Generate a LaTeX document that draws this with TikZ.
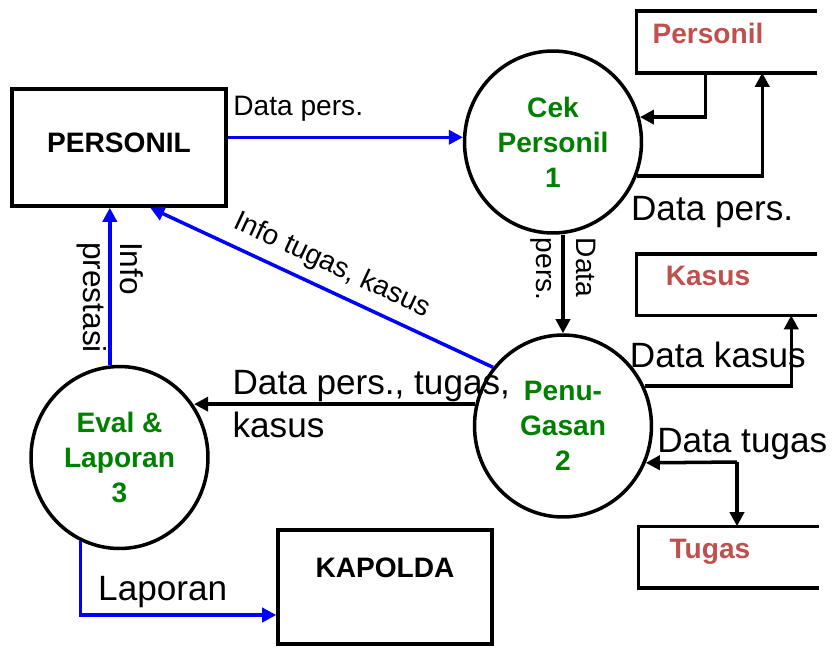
\documentclass[tikz,border=0pt]{standalone}
\usepackage{fontspec}
\setmainfont{Liberation Sans}
\usetikzlibrary{shapes.geometric,arrows.meta,calc}
\definecolor{procgreen}{RGB}{0,128,0}
\definecolor{storered}{RGB}{192,80,77}

\begin{document}
\begin{tikzpicture}[x=0.02cm, y=-0.02cm, line width=2pt,
	proc/.style = {draw, ellipse, minimum width=3.54cm, minimum height=3.64cm, inner sep=0pt, align=center, text=procgreen, font=\fontsize{16}{20}\selectfont\bfseries},
	ent/.style = {draw, rectangle, minimum width=4.28cm, minimum height=2.34cm, font=\fontsize{16}{19}\selectfont\bfseries},
	store/.style = {rectangle, minimum width=2.8cm, minimum height=1.16cm, text depth=9.5pt, text=storered, font=\fontsize{16}{19}\selectfont\bfseries},
	flow/.style = {-{Triangle[length=8pt,width=8pt]}},
	bflow/.style = {flow, blue},
	lbl/.style = {font=\fontsize{16}{23}\selectfont, text=black},
	biglbl/.style = {font=\fontsize{20}{24}\selectfont, text=black}]
	\useasboundingbox (0,0) rectangle (833,647);
	\node[ent, text depth=5pt] (pers) at (119,147.5) {PERSONIL};
	\node[ent, minimum height=2.28cm, text depth=21.5pt] (kap) at (385,587) {KAPOLDA};
	\node[proc] (cek) at (553,142) {Cek\\Personil\\1};
	\node[proc] (pen) at (563,426) {Penu-\\Gasan\\2};
	\node[proc] (eval) at (119.5,457.5) {Eval \&\\Laporan\\3};
	\node[store] (pst) at (708,42) {Personil};
	\node[store] (kst) at (708,284.5) {Kasus};
	\node[store] (tst) at (710,557) {Tugas};
	\coordinate (tj) at (737,462);
	% open data stores
	\foreach \s in {pst,kst,tst}
		\draw ($(\s.north east)+(37,0)$) -- (\s.north west) -- (\s.south west) -- ($(\s.south east)+(37,0)$);
	% flows
	\draw[bflow] (pers.east |- cek.177) -- node[lbl, above=5pt, pos=0.3] {Data pers.} (cek.177);
	\draw[bflow] (pen.140) -- node[lbl, sloped, above=2pt] {Info tugas, kasus} ($(pers.south west)+(140,0)$);
	\draw[bflow] (eval.96) -- node[lbl, pos=0.43, rotate=-90, align=left, font=\fontsize{18}{21}\selectfont] {Info\\prestasi} (eval.96 |- pers.south);
	\draw[bflow] (eval.-115) |- node[biglbl, pos=0.71, above] {Laporan} ($(kap.west)+(0,28)$);
	\draw[flow] (pen.166) -- node[biglbl, pos=0.89, anchor=west, align=left] {Data pers., tugas,\\kasus} (pen.166 -| eval.35);
	\draw[flow] (pen.north |- cek.south) -- node[lbl, pos=0.35, rotate=-90, align=left] {Data\\pers.} (pen.north);
	\draw[flow] ($(pst.south west)+(69,0)$) |- (cek.16);
	\draw[flow] (cek.-22) -| node[biglbl, pos=0.3, below=7pt] {Data pers.} ($(pst.south west)+(126,0)$);
	\draw[flow] (pen.26) -| node[biglbl, pos=0.25, above=6pt] {Data kasus} ($(kst.south west)+(155,0)$);
	\draw[flow] (tj) -- (pen.-24);
	\draw[flow] (tj) -- node[biglbl, pos=0, anchor=south, inner sep=0pt, xshift=3pt] {Data tugas} (tj |- tst.north);
\end{tikzpicture}
\end{document}
